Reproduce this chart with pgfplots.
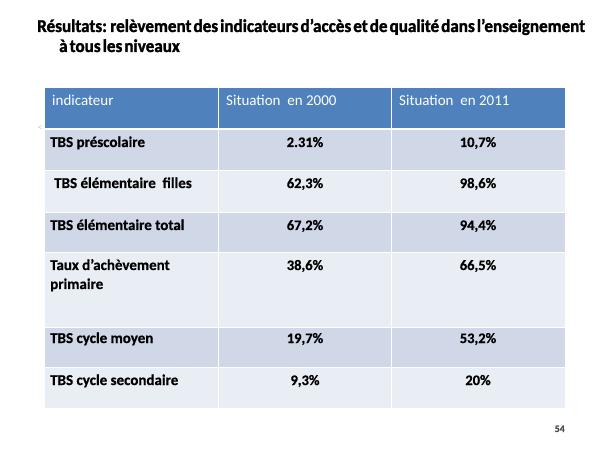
\documentclass[border=0pt]{standalone}
\usepackage{pgfplots}
\pgfplotsset{compat=1.18}
\usepackage{fontspec}
\setmainfont{Carlito}[BoldFeatures={FakeBold=0.6}]
\newfontfamily\titlefont{Carlito}[BoldFeatures={FakeBold=1.6}]
\definecolor{hdr}{HTML}{4F81BD}
\definecolor{rowA}{HTML}{D0D8E8}
\definecolor{rowB}{HTML}{E9EDF4}
\begin{document}
\begin{tikzpicture}
\begin{axis}[
  scale only axis, width=600bp, height=450bp,
  xmin=0, xmax=600, ymin=0, ymax=450, y dir=reverse,
  hide axis, clip=false,
]
\fill[white] (axis cs:0,0) rectangle (axis cs:600,450);
% header
\fill[hdr] (axis cs:45,88) rectangle (axis cs:565,129);
% rows
\fill[rowA] (axis cs:45,129) rectangle (axis cs:565,171);
\fill[rowB] (axis cs:45,171) rectangle (axis cs:565,213);
\fill[rowA] (axis cs:45,213) rectangle (axis cs:565,253);
\fill[rowB] (axis cs:45,253) rectangle (axis cs:565,327);
\fill[rowA] (axis cs:45,327) rectangle (axis cs:565,367);
\fill[rowB] (axis cs:45,367) rectangle (axis cs:565,408);
% separators
\draw[white, line width=2.2bp] (axis cs:45,129) -- (axis cs:565,129);
\draw[white, line width=1bp] (axis cs:45,171) -- (axis cs:565,171);
\draw[white, line width=1bp] (axis cs:45,213) -- (axis cs:565,213);
\draw[white, line width=1bp] (axis cs:45,253) -- (axis cs:565,253);
\draw[white, line width=1bp] (axis cs:45,327) -- (axis cs:565,327);
\draw[white, line width=1bp] (axis cs:45,367) -- (axis cs:565,367);
\draw[white, line width=1bp] (axis cs:218,88) -- (axis cs:218,408);
\draw[white, line width=1bp] (axis cs:391,88) -- (axis cs:391,408);
% title
\node[anchor=base west, inner sep=0pt] at (axis cs:37,32)
  {\scalebox{0.95}[1]{\fontsize{18bp}{20bp}\titlefont\bfseries\spaceskip=0.12em\relax Résultats: relèvement des indicateurs d’accès et de qualité dans l’enseignement}};
\node[anchor=base west, inner sep=0pt] at (axis cs:59,52)
  {\scalebox{0.95}[1]{\fontsize{18bp}{20bp}\titlefont\bfseries\spaceskip=0.12em\relax à tous les niveaux}};
% header text
\node[anchor=base west, inner sep=0pt, text=white, font=\fontsize{15bp}{18bp}\selectfont] at (axis cs:52,106) {indicateur};
\node[anchor=base west, inner sep=0pt, text=white, font=\fontsize{15bp}{18bp}\selectfont] at (axis cs:226,106) {Situation\ \ en 2000};
\node[anchor=base west, inner sep=0pt, text=white, font=\fontsize{15bp}{18bp}\selectfont] at (axis cs:399,106) {Situation\ \ en 2011};
% row labels
\node[anchor=base west, inner sep=0pt, font=\fontsize{15bp}{18bp}\selectfont\bfseries] at (axis cs:50,147) {TBS préscolaire};
\node[anchor=base west, inner sep=0pt, font=\fontsize{15bp}{18bp}\selectfont\bfseries] at (axis cs:54,188) {TBS élémentaire\ \ filles};
\node[anchor=base west, inner sep=0pt, font=\fontsize{15bp}{18bp}\selectfont\bfseries] at (axis cs:50,230) {TBS élémentaire total};
\node[anchor=base west, inner sep=0pt, font=\fontsize{15bp}{18bp}\selectfont\bfseries] at (axis cs:50,270) {Taux d’achèvement};
\node[anchor=base west, inner sep=0pt, font=\fontsize{15bp}{18bp}\selectfont\bfseries] at (axis cs:50,289) {primaire};
\node[anchor=base west, inner sep=0pt, font=\fontsize{15bp}{18bp}\selectfont\bfseries] at (axis cs:50,343) {TBS cycle moyen};
\node[anchor=base west, inner sep=0pt, font=\fontsize{15bp}{18bp}\selectfont\bfseries] at (axis cs:50,385) {TBS cycle secondaire};
% values
\addplot[draw=none, mark=none, point meta=explicit symbolic,
  nodes near coords={\pgfplotspointmeta\%},
  every node near coord/.style={anchor=base, inner sep=0pt, font=\fontsize{14.5bp}{17bp}\selectfont\bfseries}]
  table[x=x, y=y, meta=v] {
x y v
305 147 2.31
305 188 62,3
305 230 67,2
305 270 38,6
305 343 19,7
305 385 9,3
478 147 10,7
478 188 98,6
478 230 94,4
478 270 66,5
478 343 53,2
478 385 20
};
% artifacts
\node[anchor=center, inner sep=0pt, text=black!25, font=\fontsize{9bp}{9bp}\selectfont] at (axis cs:40,128) {<};
\node[anchor=base east, inner sep=0pt, text=black!70, font=\fontsize{10bp}{10bp}\selectfont\bfseries] at (axis cs:565,432) {54};
\end{axis}
\end{tikzpicture}
\end{document}
